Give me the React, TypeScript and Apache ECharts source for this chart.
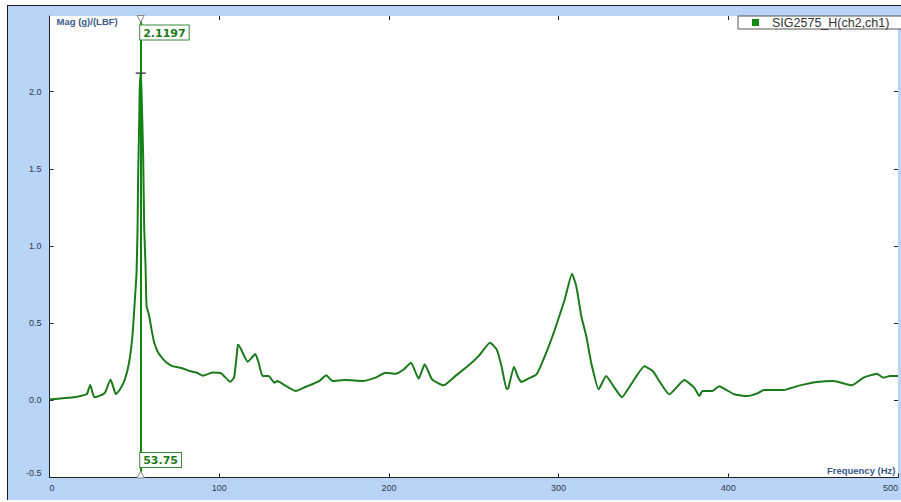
import React, { useEffect, useRef } from "react";
import * as echarts from "echarts";

// Frequency (Hz) and magnitude (g/LBF)
const freqHz = [
  0, 14, 19, 22, 24, 26.4, 29.8, 32.7, 36, 39.1, 41.5, 44.4, 46.9, 48.9, 50.3,
  51.3, 51.9, 52.2, 52.8, 53.2, 53.75, 54.2, 55.2, 55.8, 56.6, 57.2, 58.7, 60.1,
  61.7, 64, 66, 68.9, 72.8, 77.7, 82.6, 86.5, 90.4, 96.2, 101.2, 106.5, 108.8,
  110.9, 111.3, 116.8, 121.3, 123.2, 125.6, 129.1, 132.5, 134.4, 138.3, 145.2,
  151.1, 158.9, 163.1, 166.7, 174.5, 184.3, 192.1, 198, 203.9, 208.7, 213,
  217.5, 221.1, 225.4, 232.2, 239.1, 246.9, 252.8, 259.6, 263.5, 266.4, 269.4,
  270.4, 273.7, 276.2, 278.2, 282.1, 287, 291.9, 297.8, 303.6, 307.9, 310.4,
  313.4, 316.3, 319.2, 323.6, 328, 332.9, 337.3, 342.7, 350.6, 355.5, 365.3,
  374.1, 379.9, 382.9, 384.8, 390.6, 394.6, 403.4, 411.2, 417.1, 421, 432.7,
  440.6, 452.3, 462.1, 472.8, 479.7, 487.5, 491.4, 495.3, 500,
];
const magnitude = [
  0.005, 0.02, 0.03, 0.04, 0.1, 0.02, 0.03, 0.05, 0.135, 0.04, 0.07, 0.135,
  0.245, 0.42, 0.65, 0.83, 1.12, 1.43, 1.77, 2.03, 2.1197, 2.01, 1.58, 1.12,
  0.87, 0.61, 0.55, 0.46, 0.375, 0.31, 0.28, 0.245, 0.22, 0.21, 0.19, 0.18,
  0.16, 0.18, 0.175, 0.12, 0.15, 0.35, 0.36, 0.25, 0.3, 0.245, 0.157, 0.157,
  0.114, 0.125, 0.1, 0.06, 0.088, 0.125, 0.163, 0.125, 0.131, 0.125, 0.147,
  0.179, 0.172, 0.2, 0.244, 0.14, 0.233, 0.136, 0.097, 0.157, 0.225, 0.286,
  0.373, 0.33, 0.22, 0.071, 0.08, 0.218, 0.147, 0.118, 0.14, 0.168, 0.286,
  0.459, 0.653, 0.82, 0.74, 0.545, 0.416, 0.244, 0.071, 0.157, 0.082, 0.02,
  0.103, 0.22, 0.19, 0.039, 0.131, 0.082, 0.028, 0.06, 0.06, 0.092, 0.039,
  0.028, 0.045, 0.067, 0.067, 0.092, 0.118, 0.125, 0.097, 0.147, 0.172, 0.147,
  0.157, 0.157,
];

const seriesName = "SIG2575_H(ch2,ch1)";
const cursorFreq = 53.75;
const cursorMag = 2.1197;
const xRange = [0, 500];
const yRange = [-0.5, 2.49];
const xStep = 100;
const yStep = 0.5;

export default function App() {
  const ref = useRef<HTMLDivElement>(null);

  useEffect(() => {
    const chart = echarts.init(ref.current!, null, { renderer: "svg" });
    const data = freqHz.map((f, i) => [f, magnitude[i]]);

    const boxLabel = {
      show: true,
      color: "#1d7a1d",
      fontFamily: "DejaVu Sans",
      fontWeight: "bold",
      fontSize: 11,
      backgroundColor: "#ffffff",
      borderColor: "#3a8a3a",
      borderWidth: 1,
      padding: [2, 3, 1, 3],
    };
    const hidden = { color: "rgba(0,0,0,0)" };
    const axisLabelFont = {
      fontFamily: "Liberation Sans",
      fontSize: 9,
      color: "#2d3b4e",
    };
    const nameFont = {
      fontFamily: "Liberation Sans",
      fontWeight: "bold",
      fontSize: 9.5,
      color: "#3b5a8a",
    };

    chart.setOption({
      animation: false,
      backgroundColor: "transparent",
      grid: {
        left: 49.5,
        right: 0,
        top: 16,
        bottom: 24.5,
        show: true,
        backgroundColor: "#ffffff",
        borderWidth: 0,
      },
      legend: {
        left: 738,
        top: 16,
        data: [seriesName],
        backgroundColor: "#ffffff",
        borderColor: "#555555",
        borderWidth: 1,
        padding: [0, 20, 0, 14],
        itemWidth: 7,
        itemHeight: 7,
        icon: "rect",
        textStyle: {
          fontFamily: "Liberation Sans",
          fontSize: 12.5,
          color: "#333333",
          lineHeight: 13,
          padding: [0, 0, 0, 8],
        },
      },
      xAxis: [
        {
          type: "value",
          min: xRange[0],
          max: xRange[1],
          interval: xStep,
          name: "Frequency (Hz)",
          nameLocation: "end",
          nameGap: -2.5,
          nameTextStyle: {
            ...nameFont,
            align: "right",
            verticalAlign: "bottom",
            padding: [0, 0, 2, 0],
          },
          axisLine: { show: true, onZero: false, lineStyle: { color: "#222222" } },
          axisTick: { inside: true, length: 4, lineStyle: { color: "#222222" } },
          axisLabel: {
            ...axisLabelFont,
            margin: 6,
            alignMinLabel: "left",
            alignMaxLabel: "right",
          },
          splitLine: { show: false },
        },
        {
          type: "value",
          position: "top",
          min: xRange[0],
          max: xRange[1],
          interval: xStep,
          axisLine: { show: false, onZero: false },
          axisTick: { inside: true, length: 4, lineStyle: { color: "#222222" } },
          axisLabel: { show: false },
          splitLine: { show: false },
        },
      ],
      yAxis: [
        {
          type: "value",
          min: yRange[0],
          max: yRange[1],
          interval: yStep,
          name: "Mag (g)/(LBF)",
          nameLocation: "end",
          nameGap: -5,
          nameTextStyle: {
            ...nameFont,
            align: "left",
            verticalAlign: "middle",
            padding: [0, 0, 0, 7],
          },
          axisLine: { show: true, onZero: false, lineStyle: { color: "#222222" } },
          axisTick: { inside: true, length: 4, lineStyle: { color: "#222222" } },
          axisLabel: {
            ...axisLabelFont,
            margin: 8,
            showMaxLabel: false,
            verticalAlignMinLabel: "bottom",
            formatter: (v: number) => v.toFixed(1),
          },
          splitLine: { show: false },
        },
        {
          type: "value",
          position: "right",
          min: yRange[0],
          max: yRange[1],
          interval: yStep,
          axisLine: { show: false, onZero: false },
          axisTick: { inside: true, length: 4, lineStyle: { color: "#222222" } },
          axisLabel: { show: false },
          splitLine: { show: false },
        },
      ],
      series: [
        {
          type: "line",
          name: seriesName,
          data,
          showSymbol: false,
          symbol: "none",
          smooth: 0.15,
          lineStyle: { color: "#1b7a1b", width: 2 },
          itemStyle: { color: "#148a14" },
          markLine: {
            silent: true,
            symbol: "none",
            label: { show: false },
            lineStyle: { color: "#0a8a0a", width: 2, type: "solid" },
            data: [{ xAxis: cursorFreq }],
          },
          markPoint: {
            silent: true,
            data: [
              {
                coord: [cursorFreq, yRange[1]],
                symbol: "triangle",
                symbolRotate: 180,
                symbolSize: 7,
                symbolOffset: [0, 3],
                itemStyle: { color: "#ffffff", borderColor: "#888888", borderWidth: 1 },
                label: { show: false },
              },
              {
                coord: [cursorFreq, yRange[0]],
                symbol: "triangle",
                symbolSize: 7,
                symbolOffset: [0, -3],
                itemStyle: { color: "#ffffff", borderColor: "#888888", borderWidth: 1 },
                label: { show: false },
              },
              {
                coord: [cursorFreq, cursorMag],
                symbol: "rect",
                symbolSize: [10, 1.5],
                itemStyle: { color: "#444444" },
                label: { show: false },
              },
              {
                coord: [cursorFreq, yRange[1]],
                symbol: "rect",
                symbolSize: 1,
                itemStyle: hidden,
                label: {
                  ...boxLabel,
                  position: [0, 10],
                  formatter: () => cursorMag.toFixed(4),
                },
              },
              {
                coord: [cursorFreq, yRange[0]],
                symbol: "rect",
                symbolSize: 1,
                itemStyle: hidden,
                label: {
                  ...boxLabel,
                  position: [0, -24],
                  formatter: () => cursorFreq.toFixed(2),
                },
              },
            ],
          },
        },
      ],
    });

    return () => chart.dispose();
  }, []);

  return (
    <div
      style={{
        position: "fixed",
        left: 0,
        top: 0,
        width: 901,
        height: 502,
        background: "#ffffff",
        overflow: "hidden",
      }}
    >
      <div
        style={{
          position: "absolute",
          left: 7,
          top: 5,
          width: 900,
          height: 494,
          background: "#b9d4f6",
          borderLeft: "1px solid #1a1a1a",
          borderTop: "1px solid #1a1a1a",
        }}
      />
      <div
        ref={ref}
        style={{ position: "absolute", left: 0, top: 0, width: 901, height: 502 }}
      />
    </div>
  );
}
